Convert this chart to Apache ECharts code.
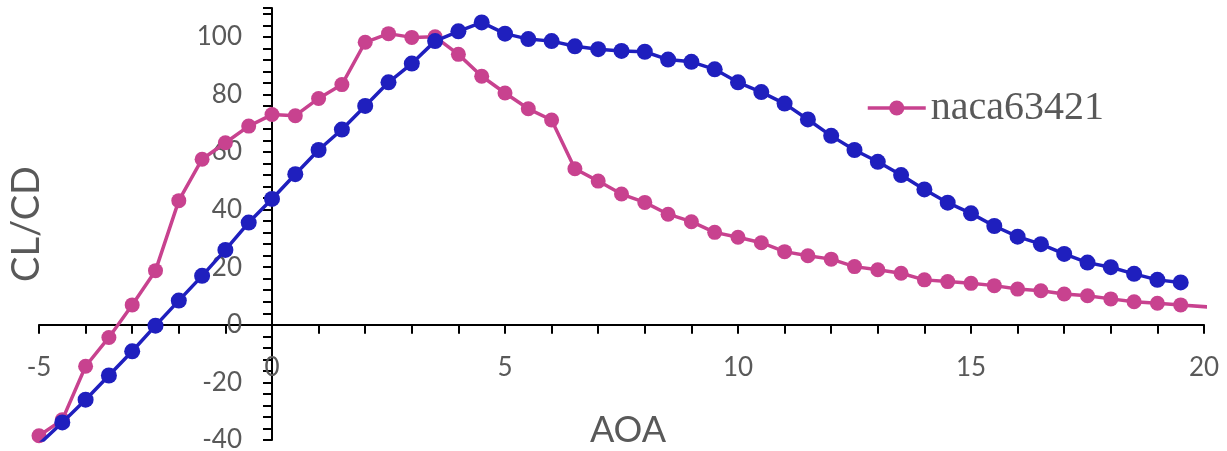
<!DOCTYPE html>
<html>
<head>
<meta charset="utf-8">
<script src="https://cdn.jsdelivr.net/npm/echarts@6/dist/echarts.min.js"></script>
<style>
html,body{margin:0;padding:0;background:#fff;}
#chart{width:1227px;height:451px;}
</style>
</head>
<body>
<div id="chart"></div>
<script>
// AOA values (deg)
var aoaPink = [-5,-4.5,-4,-3.5,-3,-2.5,-2,-1.5,-1,-0.5,0,0.5,1,1.5,2,2.5,3,3.5,4,4.5,5,5.5,6,6.5,7,7.5,8,8.5,9,9.5,10,10.5,11,11.5,12,12.5,13,13.5,14,14.5,15,15.5,16,16.5,17,17.5,18,18.5,19,19.5,20.5];
var clcdPink = [-38.5,-33,-14.4,-4.4,6.9,18.8,43.1,57.5,63.2,69.0,73.0,72.6,78.6,83.4,98.1,101.1,99.8,100.0,93.9,86.3,80.5,75.0,71.1,54.2,49.9,45.4,42.5,38.4,35.8,32.1,30.4,28.5,25.4,24.0,22.8,20.2,19.1,17.9,15.6,15.0,14.4,13.6,12.4,11.8,10.7,10.1,9.0,8.0,7.5,6.9,5.7];
var aoaBlue = [-5,-4.5,-4,-3.5,-3,-2.5,-2,-1.5,-1,-0.5,0,0.5,1,1.5,2,2.5,3,3.5,4,4.5,5,5.5,6,6.5,7,7.5,8,8.5,9,9.5,10,10.5,11,11.5,12,12.5,13,13.5,14,14.5,15,15.5,16,16.5,17,17.5,18,18.5,19,19.5];
var clcdBlue = [-41.5,-33.9,-26.0,-17.6,-9.2,-0.3,8.4,17.0,26.0,35.5,43.7,52.3,60.7,67.8,76.0,84.2,90.7,98.5,101.9,105.0,101.1,99.2,98.5,96.7,95.7,95.1,94.8,92.1,91.3,88.7,84.2,80.8,76.8,71.3,65.6,60.7,56.6,52.0,47.0,42.4,38.7,34.3,30.6,28.0,24.6,21.6,20.0,17.7,15.6,14.7];
var pinkName = 'naca63421';
var xTitle = 'AOA';
var yTitle = 'CL/CD';

function pairs(xs, ys){ return xs.map(function(x,i){ return [x, ys[i]]; }); }

var chart = echarts.init(document.getElementById('chart'));
var labelFont = {fontFamily:'Lato', fontSize:26, color:'#595959'};
chart.setOption({
  animation:false,
  backgroundColor:'#ffffff',
  grid:{left:39, right:23, top:8, bottom:11, containLabel:false, outerBoundsMode:'none'},
  legend:{
    data:[pinkName],
    left:861, top:83,
    itemWidth:58, itemHeight:19, itemGap:5,
    lineStyle:{width:3.5},
    textStyle:{fontFamily:'Liberation Serif', fontSize:40, color:'#595959'}
  },
  xAxis:{
    type:'value', min:-5, max:20, interval:5,
    position:'bottom', offset:-115.2,
    axisLine:{onZero:false, lineStyle:{color:'#000', width:2}},
    axisTick:{show:true, length:9, lineStyle:{color:'#000', width:2}},
    minorTick:{show:true, splitNumber:5, length:9, lineStyle:{color:'#000', width:2}},
    splitLine:{show:false},
    axisLabel:Object.assign({margin:30}, labelFont),
    name:xTitle, nameLocation:'middle', nameGap:88,
    nameTextStyle:{fontFamily:'Lato', fontSize:36, color:'#595959', padding:[0,0,0,13]}
  },
  yAxis:{
    type:'value', min:-40, max:110, interval:20,
    position:'left', offset:-233,
    axisLine:{onZero:false, lineStyle:{color:'#000', width:2}},
    axisTick:{show:true, length:9, lineStyle:{color:'#000', width:2}},
    minorTick:{show:true, splitNumber:5, length:9, lineStyle:{color:'#000', width:2}},
    splitLine:{show:false},
    axisLabel:Object.assign({margin:30, showMaxLabel:false, formatter:function(v){return v>100?'':v;}}, labelFont),
    name:yTitle, nameLocation:'middle', nameGap:226, nameRotate:90,
    nameTextStyle:{fontFamily:'Lato', fontSize:38, color:'#595959'}
  },
  series:[
    {
      name:pinkName, type:'line', data:pairs(aoaPink, clcdPink),
      symbol:'circle', symbolSize:15, showAllSymbol:true,
      lineStyle:{color:'#C8428F', width:3.5},
      itemStyle:{color:'#C8428F'},
      clip:true, z:2
    },
    {
      name:'naca-blue', type:'line', data:pairs(aoaBlue, clcdBlue),
      symbol:'circle', symbolSize:16, showAllSymbol:true,
      lineStyle:{color:'#1F1FBE', width:3.5},
      itemStyle:{color:'#1F1FBE'},
      clip:true, z:3
    }
  ]
});
</script>
</body>
</html>
